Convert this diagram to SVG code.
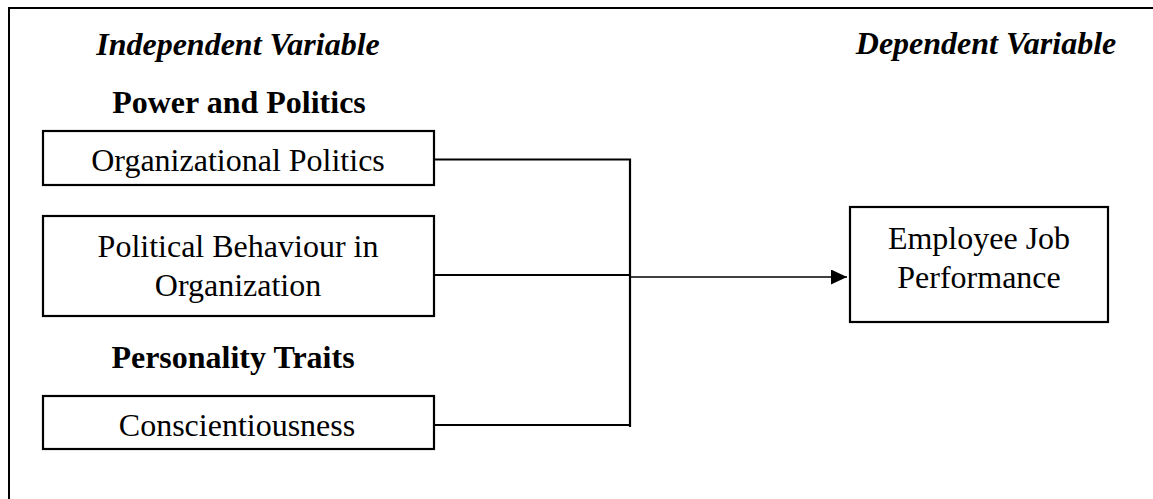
<svg xmlns="http://www.w3.org/2000/svg" width="1153" height="499" viewBox="0 0 1153 499">
<style>
text{font-family:"Liberation Serif","Times New Roman",serif;font-size:32px;fill:#000;text-anchor:middle}
.h{font-weight:bold;font-style:italic}
.b{font-weight:bold}
.box{fill:#fff;stroke:#000;stroke-width:2.2}
.c{fill:none;stroke:#000;stroke-width:2.2}
</style>
<defs>
<marker id="ah" markerWidth="16" markerHeight="15" refX="16" refY="7.5" orient="auto" markerUnits="userSpaceOnUse">
<path d="M0,0 L16,7.5 L0,15 Z" fill="#000"/>
</marker>
</defs>
<g id="frame"><path d="M9,499 V8 H1153" fill="none" stroke="#000" stroke-width="2"/></g>
<g id="labels">
<text class="h" x="238" y="55">Independent Variable</text>
<text class="h" x="986" y="54">Dependent Variable</text>
<text class="b" x="239" y="113">Power and Politics</text>
<text class="b" x="233" y="368">Personality Traits</text>
</g>
<g id="connectors">
<path class="c" d="M434,159.5 H630 V427 M434,275 H630 M434,425 H630"/>
<path d="M630,277 H847" stroke="#000" stroke-width="1.3" fill="none" marker-end="url(#ah)"/>
</g>
<g id="node-org-politics">
<rect class="box" x="43" y="131" width="391" height="54"/>
<text x="238" y="171">Organizational Politics</text>
</g>
<g id="node-political-behaviour">
<rect class="box" x="43" y="216" width="391" height="100"/>
<text x="238" y="257">Political Behaviour in</text>
<text x="238" y="296">Organization</text>
</g>
<g id="node-conscientiousness">
<rect class="box" x="43" y="396" width="391" height="53"/>
<text x="237" y="436">Conscientiousness</text>
</g>
<g id="node-job-performance">
<rect class="box" x="850" y="207" width="258" height="115"/>
<text x="979" y="249">Employee Job</text>
<text x="979" y="288">Performance</text>
</g>
</svg>
